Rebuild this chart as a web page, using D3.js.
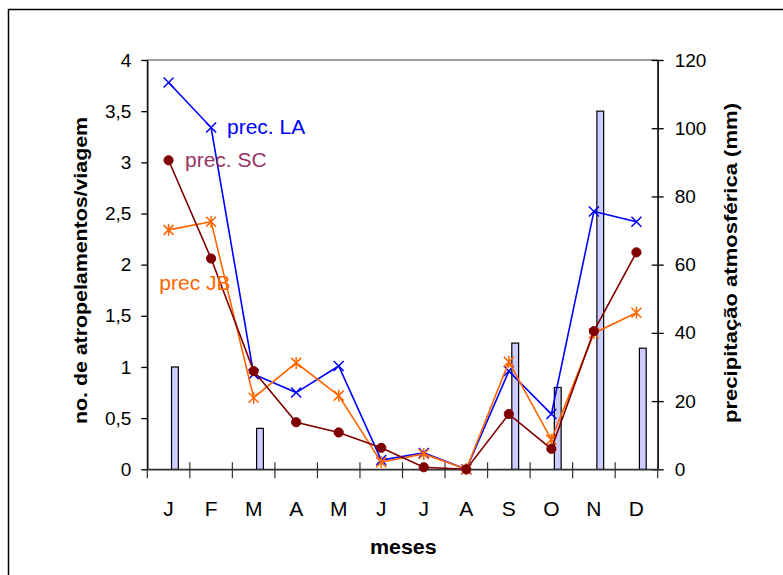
<!DOCTYPE html>
<html>
<head>
<meta charset="utf-8">
<script src="https://cdn.jsdelivr.net/npm/d3@7"></script>
<style>
  html, body { margin: 0; padding: 0; background: #fff; }
  svg { display: block; }
  text { font-family: "Liberation Sans", Arial, sans-serif; }
</style>
</head>
<body>
<svg id="chart" width="783" height="575"></svg>
<script>
// ---- data ----
const months = ["J","F","M","A","M","J","J","A","S","O","N","D"];
const precLA = [3.78, 3.34, 0.93, 0.75, 1.01, 0.09, 0.16, 0, 0.96, 0.54, 2.52, 2.42];
const precSC = [3.02, 2.06, 0.96, 0.46, 0.36, 0.21, 0.02, 0, 0.54, 0.20, 1.35, 2.12];
const precJB = [2.34, 2.42, 0.70, 1.04, 0.72, 0.07, 0.15, 0, 1.05, 0.29, 1.33, 1.53];
const rainfall = [30, 0, 12, 0, 0, 0, 0, 0, 37, 24, 105, 35.5];
const leftTicks = [0, 0.5, 1, 1.5, 2, 2.5, 3, 3.5, 4];
const rightTicks = [0, 20, 40, 60, 80, 100, 120];
const seriesNames = ["prec. LA", "prec. SC", "prec JB"];

// ---- layout ----
const svg = d3.select("#chart");
const L = 147.3, R = 657.7, T = 60, B = 469.3;
const idx = d3.range(months.length);

const x = d3.scaleBand().domain(idx).range([L, R]).paddingInner(0).paddingOuter(0);
const yL = d3.scaleLinear().domain([0, 4]).range([B, T]);
const yR = d3.scaleLinear().domain([0, 120]).range([B, T]);
const cx = i => x(i) + x.bandwidth() / 2;

// outer frame
svg.append("rect").attr("x", 8.5).attr("y", 9.5).attr("width", 820).attr("height", 620)
  .attr("fill", "none").attr("stroke", "#000").attr("stroke-width", 1.5);

// plot frame (gray)
svg.append("rect").attr("x", L).attr("y", T).attr("width", R - L).attr("height", B - T)
  .attr("fill", "none").attr("stroke", "#808080").attr("stroke-width", 1.5);

// bars (rainfall, right axis)
svg.append("g").selectAll("rect").data(idx.filter(i => rainfall[i] > 0)).join("rect")
  .attr("x", i => x(i) + x.bandwidth() * 0.57)
  .attr("width", x.bandwidth() * 0.16)
  .attr("y", i => yR(rainfall[i]))
  .attr("height", i => B - yR(rainfall[i]))
  .attr("fill", "#CCCCFF").attr("stroke", "#000").attr("stroke-width", 1.2);

// left axis
const fmt = d => String(d).replace(".", ",");
const gL = svg.append("g").attr("transform", `translate(${L},0)`)
  .call(d3.axisLeft(yL).tickValues(leftTicks).tickFormat(fmt).tickSize(6).tickSizeOuter(0).tickPadding(10));
gL.selectAll("text").attr("font-size", 19).attr("fill", "#000").attr("font-family", null);
gL.selectAll("line, path").attr("stroke", "#000").attr("stroke-width", 1.3);

// right axis
const gR = svg.append("g").attr("transform", `translate(${R},0)`)
  .call(d3.axisRight(yR).tickValues(rightTicks).tickSize(6).tickSizeOuter(0).tickPadding(11));
gR.selectAll(".tick line").attr("x1", -6).attr("x2", 6);
gR.selectAll("text").attr("font-size", 19).attr("fill", "#000").attr("font-family", null);
gR.selectAll("line, path").attr("stroke", "#000").attr("stroke-width", 1.3);

// bottom axis (labels)
const gB = svg.append("g").attr("transform", `translate(0,${B})`)
  .call(d3.axisBottom(x).tickFormat(i => months[i]).tickSize(0).tickSizeOuter(0).tickPadding(32));
gB.selectAll("text").attr("font-size", 21).attr("fill", "#000").attr("font-family", null);
gB.select(".domain").attr("stroke", "#333").attr("stroke-width", 1.5);
// category separator ticks
const bounds = idx.map(i => x(i)).concat([R]);
svg.append("g").selectAll("line").data(bounds).join("line")
  .attr("x1", d => d).attr("x2", d => d)
  .attr("y1", (d, i) => (i === 0 ? B : B - 7)).attr("y2", B + 9)
  .attr("stroke", "#333").attr("stroke-width", 1.2);

// lines
const lineGen = arr => d3.line().x((d, i) => cx(i)).y(d => yL(d))(arr);

function drawSeries(arr, color, marker) {
  const g = svg.append("g");
  g.append("path").attr("d", lineGen(arr)).attr("fill", "none")
    .attr("stroke", color).attr("stroke-width", 1.6);
  const m = g.selectAll("g.m").data(arr).join("g")
    .attr("transform", (d, i) => `translate(${cx(i)},${yL(d)})`);
  if (marker === "x") {
    m.append("path").attr("d", "M-5,-5L5,5M-5,5L5,-5").attr("stroke", color).attr("stroke-width", 1.5);
  } else if (marker === "star") {
    m.append("path").attr("d", "M-5,-5L5,5M-5,5L5,-5M0,-6L0,6").attr("stroke", color).attr("stroke-width", 1.5);
  } else {
    m.append("circle").attr("r", 4.6).attr("fill", color).attr("stroke", color);
  }
}
drawSeries(precLA, "#0000FF", "x");
drawSeries(precJB, "#FF6600", "star");
drawSeries(precSC, "#800000", "circle");

// series labels
svg.append("text").attr("x", 227).attr("y", 134.3).attr("font-size", 21).attr("fill", "#0000FF").text(seriesNames[0]);
svg.append("text").attr("x", 185).attr("y", 166.7).attr("font-size", 21).attr("fill", "#993366").text(seriesNames[1]);
svg.append("text").attr("x", 159.3).attr("y", 290).attr("font-size", 21).attr("fill", "#FF6600").text(seriesNames[2]);

// axis titles
svg.append("text").attr("transform", "translate(87,270.5) rotate(-90)")
  .attr("text-anchor", "middle").attr("font-size", 19).attr("font-weight", "bold")
  .attr("textLength", 307).attr("lengthAdjust", "spacingAndGlyphs")
  .text("no. de atropelamentos/viagem");
svg.append("text").attr("transform", "translate(737,263) rotate(-90)")
  .attr("text-anchor", "middle").attr("font-size", 19).attr("font-weight", "bold")
  .attr("textLength", 320).attr("lengthAdjust", "spacingAndGlyphs")
  .text("precipitação atmosférica (mm)");
svg.append("text").attr("x", 403.3).attr("y", 554)
  .attr("text-anchor", "middle").attr("font-size", 21).attr("font-weight", "bold")
  .attr("textLength", 66.7).attr("lengthAdjust", "spacingAndGlyphs")
  .text("meses");
</script>
</body>
</html>
